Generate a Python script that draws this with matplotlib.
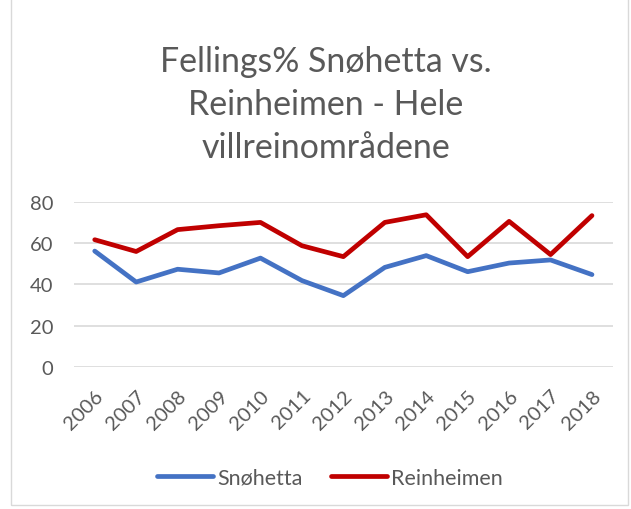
import matplotlib.pyplot as plt
from matplotlib.patches import Rectangle

# Data
years = ['2006', '2007', '2008', '2009', '2010', '2011', '2012',
         '2013', '2014', '2015', '2016', '2017', '2018']
snohetta = [56.2, 41.2, 47.4, 45.6, 52.8, 41.9, 34.6, 48.3, 54.0, 46.2, 50.4, 51.9, 44.8]
reinheimen = [61.7, 56.0, 66.6, 68.5, 70.1, 58.8, 53.5, 70.1, 73.8, 53.5, 70.6, 54.5, 73.4]

plt.rcParams['font.family'] = ['Lato', 'DejaVu Sans']
grey = '#595959'

fig = plt.figure(figsize=(6.31, 5.10), dpi=100)
ax = fig.add_axes([0.1173, 0.2784, 0.8537, 0.3236])

x = range(len(years))
ax.plot(x, snohetta, color='#4472C4', lw=3.4, solid_joinstyle='round',
        solid_capstyle='round', label='Snøhetta')
ax.plot(x, reinheimen, color='#C00000', lw=3.4, solid_joinstyle='round',
        solid_capstyle='round', label='Reinheimen')

ax.set_xlim(-0.5, len(years) - 0.5)
ax.set_ylim(0, 80)
ax.set_yticks([0, 20, 40, 60, 80])
ax.set_xticks(list(x))
ax.set_xticklabels(years, rotation=45, ha='right', rotation_mode='anchor')
ax.tick_params(colors=grey, labelsize=14.5, length=0)
ax.tick_params(axis='y', pad=15)
ax.tick_params(axis='x', pad=14)
ax.grid(axis='y', color='#d9d9d9', lw=1.2)
ax.set_axisbelow(True)
for s in ax.spines.values():
    s.set_visible(False)

fig.text(0.516, 0.794, 'Fellings% Snøhetta vs.\nReinheimen - Hele\nvillreinområdene',
         ha='center', va='center', fontsize=24.4, color=grey, linespacing=1.42)

fig.legend(loc='center', bbox_to_anchor=(0.523, 0.061), ncol=2, frameon=False,
           fontsize=15.5, labelcolor=grey, handlelength=2.6, columnspacing=1.3,
           handletextpad=0.2)

# Chart area border
fig.patches.append(Rectangle((0.017, 0.008), 0.978, 1.0, transform=fig.transFigure,
                             fill=False, edgecolor='#d9d9d9', lw=1))

fig.savefig('out.png', dpi=100)
